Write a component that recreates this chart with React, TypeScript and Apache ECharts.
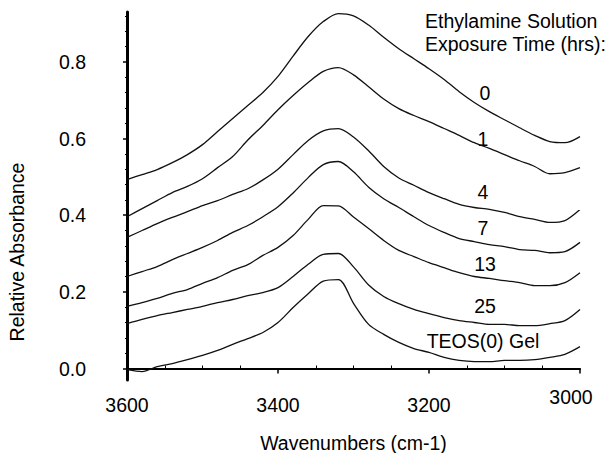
import React, { useEffect, useRef } from "react";
import * as echarts from "echarts";

const wavenumbers = [
  3600, 3580, 3560, 3540, 3520, 3500, 3480, 3460, 3440, 3420, 3400, 3380, 3360, 3340, 3320, 3300,
  3280, 3260, 3240, 3220, 3200, 3180, 3160, 3140, 3120, 3100, 3080, 3060, 3040, 3020, 3000,
];

const exposure0 = [0.493, 0.506, 0.519, 0.537, 0.558, 0.584, 0.618, 0.652, 0.686, 0.72, 0.762, 0.815, 0.866, 0.905, 0.926, 0.92, 0.896, 0.864, 0.834, 0.808, 0.782, 0.754, 0.722, 0.694, 0.67, 0.649, 0.628, 0.608, 0.592, 0.589, 0.605];
const exposure1 = [0.396, 0.417, 0.438, 0.459, 0.475, 0.495, 0.524, 0.553, 0.596, 0.634, 0.675, 0.712, 0.746, 0.775, 0.785, 0.766, 0.735, 0.703, 0.678, 0.66, 0.644, 0.626, 0.608, 0.589, 0.574, 0.558, 0.542, 0.527, 0.508, 0.511, 0.524];
const exposure4 = [0.342, 0.36, 0.378, 0.394, 0.409, 0.425, 0.438, 0.454, 0.469, 0.492, 0.52, 0.558, 0.595, 0.62, 0.626, 0.604, 0.568, 0.527, 0.497, 0.478, 0.459, 0.443, 0.428, 0.42, 0.415, 0.407, 0.396, 0.389, 0.381, 0.386, 0.415];
const exposure7 = [0.24, 0.253, 0.266, 0.284, 0.3, 0.316, 0.334, 0.355, 0.373, 0.396, 0.422, 0.458, 0.498, 0.532, 0.54, 0.513, 0.473, 0.443, 0.42, 0.396, 0.373, 0.355, 0.339, 0.331, 0.323, 0.318, 0.31, 0.308, 0.302, 0.305, 0.329];
const exposure13 = [0.162, 0.172, 0.183, 0.196, 0.206, 0.222, 0.237, 0.256, 0.271, 0.295, 0.316, 0.347, 0.389, 0.425, 0.424, 0.395, 0.365, 0.334, 0.308, 0.292, 0.276, 0.263, 0.25, 0.24, 0.235, 0.229, 0.224, 0.216, 0.216, 0.224, 0.25];
const exposure25 = [0.117, 0.128, 0.138, 0.146, 0.154, 0.162, 0.172, 0.18, 0.19, 0.198, 0.211, 0.24, 0.272, 0.298, 0.3, 0.265, 0.218, 0.188, 0.169, 0.154, 0.143, 0.133, 0.125, 0.12, 0.115, 0.115, 0.112, 0.112, 0.117, 0.125, 0.154];
const teosGel = [-0.003, -0.008, 0.005, 0.013, 0.023, 0.034, 0.047, 0.063, 0.078, 0.094, 0.12, 0.159, 0.195, 0.228, 0.232, 0.17, 0.115, 0.089, 0.068, 0.052, 0.042, 0.029, 0.021, 0.018, 0.018, 0.021, 0.021, 0.023, 0.029, 0.037, 0.057];

const seriesNames = ["0", "1", "4", "7", "13", "25", "TEOS(0) Gel"];
const seriesValues = [exposure0, exposure1, exposure4, exposure7, exposure13, exposure25, teosGel];

const yMajorTicks = [0, 0.2, 0.4, 0.6, 0.8];
const yMinorTicks = [0.04, 0.08, 0.12, 0.16, 0.24, 0.28, 0.32, 0.36, 0.44, 0.48, 0.52, 0.56, 0.64, 0.68, 0.72, 0.76, 0.84, 0.88, 0.92];
const xMinorTicks = [3550, 3500, 3450, 3350, 3300, 3250, 3150, 3100, 3050];

const FONT = "'Liberation Sans', Arial, sans-serif";
const FS = 19.5;

export default function App() {
  const ref = useRef<HTMLDivElement>(null);
  useEffect(() => {
    if (!ref.current) return;
    const chart = echarts.init(ref.current, null, { renderer: "svg" });
    const grid = { left: 127, right: 33, top: 12, bottom: 73, containLabel: false, outerBoundsMode: "none" };
    const txt = (text: string, x: number, y: number, align: string) => ({
      type: "text",
      x,
      y,
      style: { text, fontSize: FS, fontFamily: FONT, fill: "#000", align, verticalAlign: "middle" },
    });
    const option: any = {
      animation: false,
      backgroundColor: "#fff",
      textStyle: { fontFamily: FONT },
      grid: [grid, { ...grid }],
      xAxis: [
        {
          type: "value",
          gridIndex: 0,
          min: 3000,
          max: 3600,
          interval: 200,
          inverse: true,
          splitLine: { show: false },
          axisLine: { lineStyle: { color: "#000", width: 2 } },
          axisTick: { length: 5, lineStyle: { color: "#000", width: 1.5 } },
          axisLabel: {
            margin: 15,
            fontSize: FS,
            color: "#000",
            fontFamily: FONT,
            formatter: (v: number) => (v === 3000 ? "" : String(v)),
          },
          name: "Wavenumbers (cm-1)",
          nameLocation: "middle",
          nameGap: 53,
          nameTextStyle: { fontSize: FS, color: "#000", fontFamily: FONT },
        },
        {
          type: "value",
          gridIndex: 1,
          min: 3000,
          max: 3600,
          interval: 200,
          inverse: true,
          splitLine: { show: false },
          axisLine: { show: false },
          axisTick: { show: true, inside: true, length: 3, customValues: xMinorTicks, lineStyle: { color: "#000", width: 1 } },
          axisLabel: {
            customValues: [3000],
            margin: 7,
            padding: [0, 18, 0, 0],
            fontSize: FS,
            color: "#000",
            fontFamily: FONT,
            formatter: (v: number) => String(v),
          },
        },
      ],
      yAxis: [
        {
          type: "value",
          gridIndex: 0,
          min: -0.03,
          max: 0.93,
          splitLine: { show: false },
          axisLine: { show: true, lineStyle: { color: "#000", width: 3 } },
          axisTick: { show: true, length: 4, customValues: yMajorTicks, lineStyle: { color: "#000", width: 1.5 } },
          axisLabel: {
            customValues: yMajorTicks,
            margin: 41,
            fontSize: FS,
            color: "#000",
            fontFamily: FONT,
            formatter: (v: number) => v.toFixed(1),
          },
        },
        {
          type: "value",
          gridIndex: 1,
          min: -0.03,
          max: 0.93,
          splitLine: { show: false },
          axisLine: { show: false },
          axisTick: { show: true, length: 2, customValues: yMinorTicks, lineStyle: { color: "#000", width: 1 } },
          axisLabel: { show: false },
        },
      ],
      series: seriesValues.map((vals, i) => ({
        name: seriesNames[i],
        type: "line",
        xAxisIndex: 0,
        yAxisIndex: 0,
        showSymbol: false,
        symbol: "none",
        silent: true,
        smooth: 0.3,
        lineStyle: { color: "#111", width: 1.3 },
        data: wavenumbers.map((w, j) => [w, vals[j]]),
      })),
      graphic: [
        {
          type: "text",
          x: 17,
          y: 252,
          rotation: Math.PI / 2,
          style: { text: "Relative Absorbance", fontSize: FS, fontFamily: FONT, fill: "#000", align: "center", verticalAlign: "middle" },
        },
        txt("Ethylamine Solution", 425, 21, "left"),
        txt("Exposure Time (hrs):", 425, 44, "left"),
        txt("0", 485, 93, "center"),
        txt("1", 483, 139, "center"),
        txt("4", 483, 192, "center"),
        txt("7", 483, 228, "center"),
        txt("13", 485, 264, "center"),
        txt("25", 485, 306, "center"),
        txt("TEOS(0) Gel", 483, 341, "center"),
      ],
    };
    chart.setOption(option);
    return () => chart.dispose();
  }, []);
  return <div ref={ref} style={{ position: "fixed", left: 0, top: 0, width: 613, height: 453 }} />;
}
